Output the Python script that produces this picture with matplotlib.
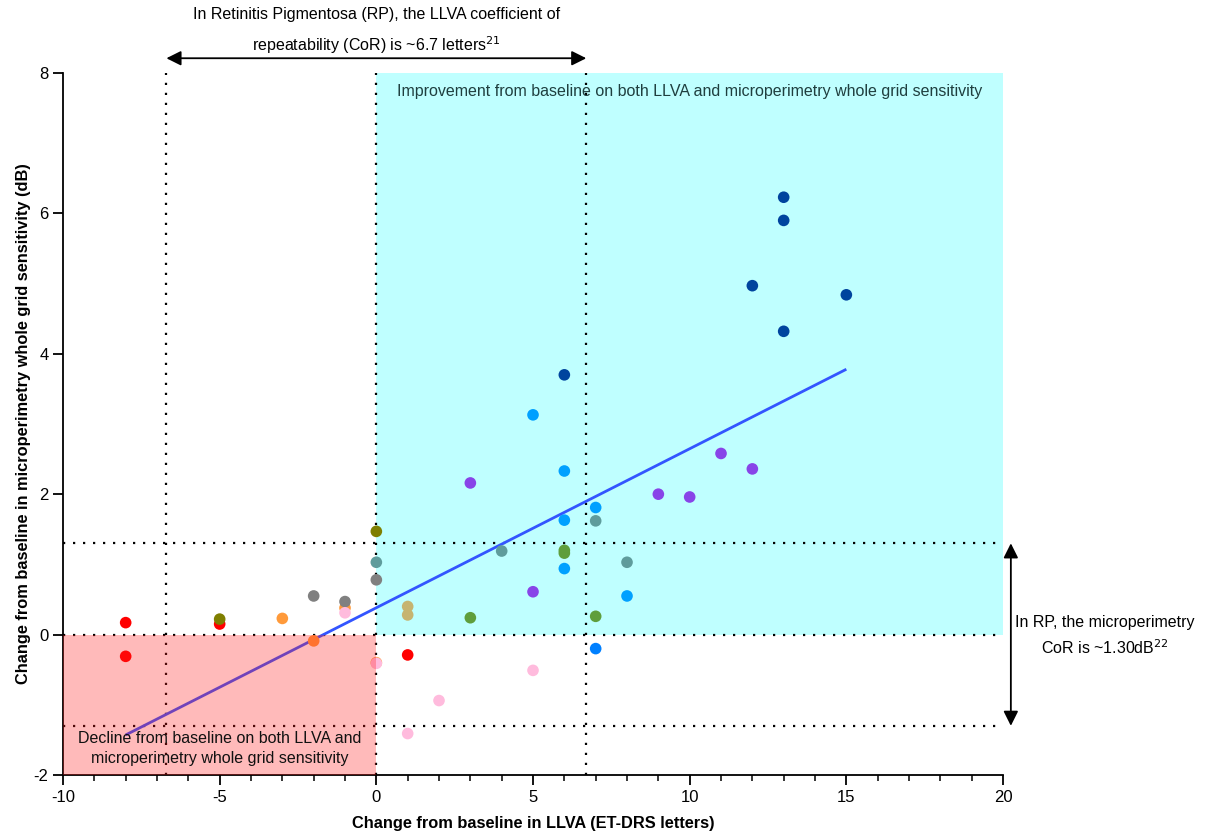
import matplotlib
matplotlib.use("Agg")
import matplotlib.pyplot as plt
from matplotlib.ticker import MultipleLocator
import numpy as np

plt.rcParams['font.family'] = ['Liberation Sans', 'DejaVu Sans']
plt.rcParams['axes.unicode_minus'] = False

# data: change in LLVA (letters), change in whole grid sensitivity (dB)
red_x = [-8, -8, -5, 1]
red_y = [0.17, -0.31, 0.15, -0.29]
olive_x = [-5, 0]
olive_y = [0.22, 1.47]
orange_x = [-3, -2, -1, 0]
orange_y = [0.23, -0.09, 0.38, -0.40]
gray_x = [-2, -1, 0]
gray_y = [0.55, 0.47, 0.78]
teal_x = [0, 4, 7, 8]
teal_y = [1.03, 1.19, 1.62, 1.03]
pink_x = [-1, 0, 5, 2, 1]
pink_y = [0.31, -0.41, -0.51, -0.94, -1.41]
tan_x = [1, 1]
tan_y = [0.40, 0.28]
green_x = [3, 6, 6, 7]
green_y = [0.24, 1.20, 1.16, 0.26]
ltblue_x = [5, 6, 7, 6, 6, 8]
ltblue_y = [3.13, 2.33, 1.81, 1.63, 0.94, 0.55]
blue_x = [7]
blue_y = [-0.20]
dkblue_x = [6, 13, 13, 12, 15, 13]
dkblue_y = [3.70, 6.23, 5.90, 4.97, 4.84, 4.32]
purple_x = [3, 5, 9, 10, 11, 12]
purple_y = [2.16, 0.61, 2.00, 1.96, 2.58, 2.36]

series = [
    (red_x, red_y, '#ff0000'),
    (olive_x, olive_y, '#7f7f00'),
    (orange_x, orange_y, '#ff9a3a'),
    (gray_x, gray_y, '#808080'),
    (teal_x, teal_y, '#5f9c9c'),
    (pink_x, pink_y, '#ffbbdd'),
    (tan_x, tan_y, '#c6b470'),
    (green_x, green_y, '#5f9e3c'),
    (ltblue_x, ltblue_y, '#00a0ff'),
    (blue_x, blue_y, '#0080ff'),
    (dkblue_x, dkblue_y, '#00449e'),
    (purple_x, purple_y, '#8844e8'),
]

# regression line
fit_x = [-8, 15]
fit_slope = 0.2265
fit_icpt = 0.382

llva_cor = 6.7
mp_cor = 1.3

fig = plt.figure(figsize=(12.07, 8.35), dpi=100)
ax = fig.add_axes([0.0522, 0.0719, 0.7788, 0.8407])
ax.set_xlim(-10, 20)
ax.set_ylim(-2, 8)

# shaded quadrants
ax.axvspan(0, 20, ymin=0.2, ymax=1.0, color='#bfffff', zorder=0, lw=0)

dot = (0, (1, 3.5))
for xv in [-llva_cor, 0, llva_cor]:
    ax.plot([xv, xv], [-2, 8], color='black', ls=dot, lw=1.6, zorder=1)
for yv in [mp_cor, 0, -mp_cor]:
    ax.plot([-10, 20], [yv, yv], color='black', ls=dot, lw=1.6, zorder=1)

fx = np.array(fit_x, dtype=float)
ax.plot(fx, fit_slope * fx + fit_icpt, color='#3355ff', lw=2, zorder=2,
        solid_capstyle='butt')

for xs, ys, col in series:
    ax.scatter(xs, ys, s=70, color=col, edgecolors='none', zorder=3)

ax.fill_between([-10, 0], -2, 0, color='#ff1c1c', alpha=0.3, lw=0, zorder=4)

fs = 11.5
ax.text(10, 7.73, 'Improvement from baseline on both LLVA and microperimetry whole grid sensitivity',
        ha='center', va='center', fontsize=fs, color='#1f3f3f', zorder=5)
ax.text(-5, -1.62, 'Decline from baseline on both LLVA and\nmicroperimetry whole grid sensitivity',
        ha='center', va='center', fontsize=fs, color='#111111', linespacing=1.45, zorder=5)

# CoR arrows
ax.annotate('', xy=(-llva_cor, 8.21), xytext=(llva_cor, 8.21), annotation_clip=False,
            arrowprops=dict(arrowstyle='<|-|>', color='black', lw=1.3,
                            mutation_scale=22, shrinkA=0, shrinkB=0))
ax.text(0, 8.59, 'In Retinitis Pigmentosa (RP), the LLVA coefficient of\nrepeatability (CoR) is ~6.7 letters$^{21}$',
        ha='center', va='center', fontsize=fs, linespacing=1.7, clip_on=False)
ax.annotate('', xy=(20.25, mp_cor), xytext=(20.25, -mp_cor), annotation_clip=False,
            arrowprops=dict(arrowstyle='<|-|>', color='black', lw=1.3,
                            mutation_scale=22, shrinkA=0, shrinkB=0))
ax.text(23.26, -0.02, 'In RP, the microperimetry\nCoR is ~1.30dB$^{22}$',
        ha='center', va='center', fontsize=fs, linespacing=1.55, clip_on=False)

for s in ['top', 'right']:
    ax.spines[s].set_visible(False)
for s in ['left', 'bottom']:
    ax.spines[s].set_linewidth(1.3)
ax.xaxis.set_major_locator(MultipleLocator(5))
ax.xaxis.set_minor_locator(MultipleLocator(1))
ax.yaxis.set_major_locator(MultipleLocator(2))
ax.tick_params(axis='both', which='major', length=7, width=1.3, labelsize=12)
ax.tick_params(axis='x', which='minor', length=4, width=1.1)

ax.set_xlabel('Change from baseline in LLVA (ET-DRS letters)', fontsize=11.8,
              fontweight='bold', labelpad=8)
ax.set_ylabel('Change from baseline in microperimetry whole grid sensitivity (dB)',
              fontsize=11.8, fontweight='bold', labelpad=2)

fig.savefig('out.png', dpi=100)
